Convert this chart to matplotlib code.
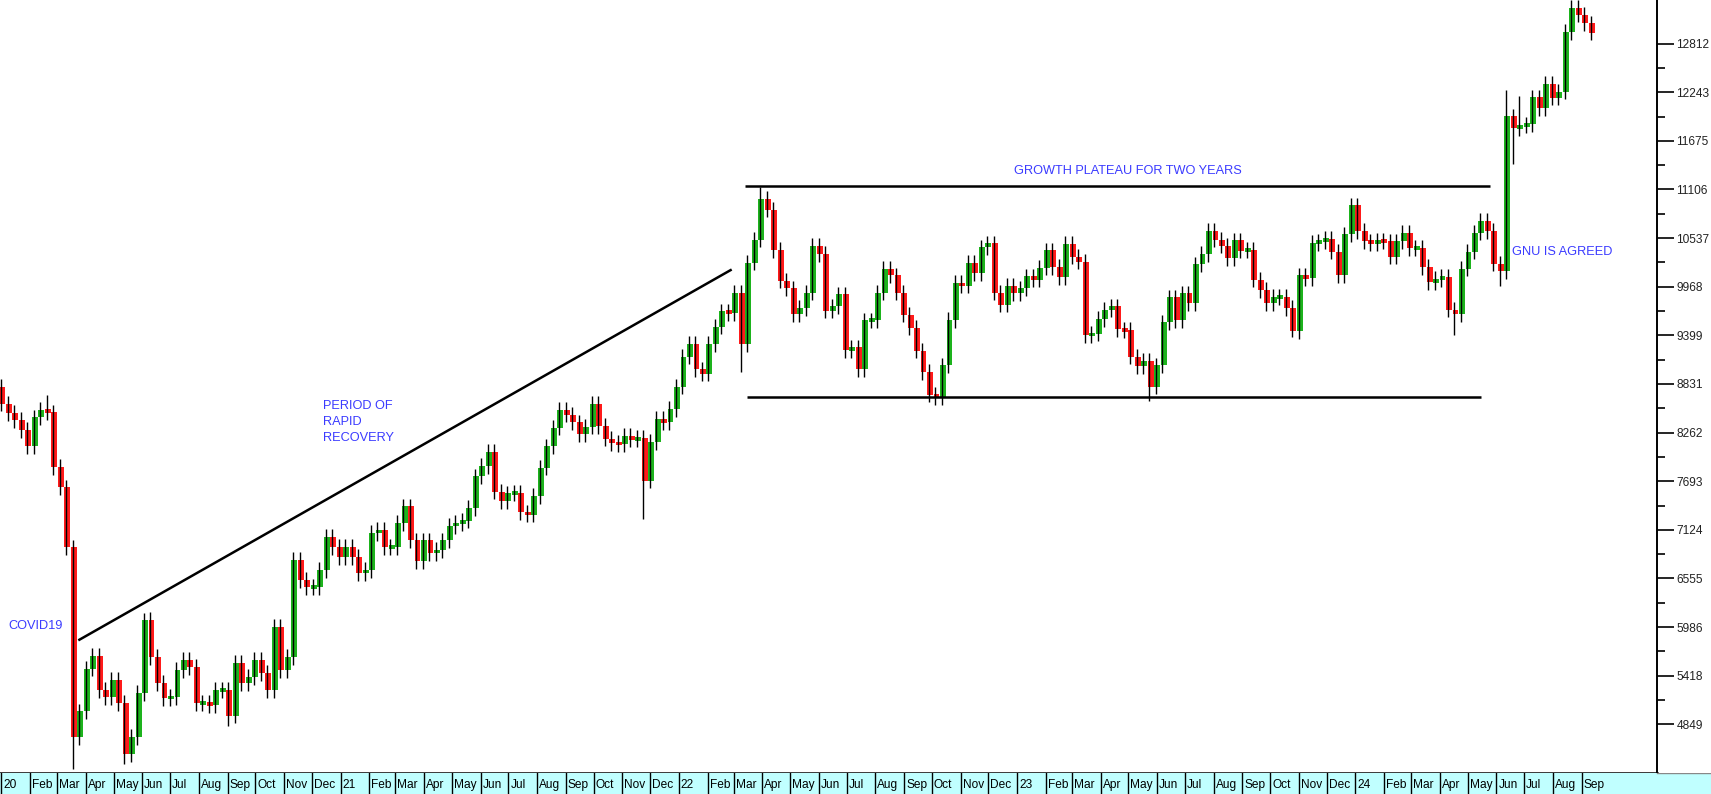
import numpy as np
import pandas as pd
import matplotlib
matplotlib.use("Agg")
import matplotlib.pyplot as plt
import matplotlib.dates as mdates
import matplotlib.transforms as mtransforms

plt.rcParams["font.family"] = ["Liberation Sans", "DejaVu Sans"]

# =========================
# DATA (weekly closes)
# =========================

week_start = "2020-01-02"
first_open = 8800

closes = [
    8600, 8490, 8410, 8290, 8100, 8440, 8530, 8500, 7860, 7620,
    6920, 4700, 5000, 5500, 5650, 5250, 5170, 5370, 5100, 4500,
    4700, 5215, 6068, 5636, 5332, 5156, 5168, 5484, 5601, 5519,
    5098, 5098, 5075, 5250, 5250, 4950, 5566, 5332, 5402, 5601,
    5449, 5250, 5986, 5484, 5636, 6771, 6537, 6455, 6455, 6654,
    7040, 6923, 6806, 6923, 6806, 6619, 6654, 7087, 7123, 6923,
    6923, 7204, 7400, 7000, 6760, 7000, 6850, 6890, 7000, 7170,
    7204, 7230, 7380, 7750, 7870, 8035, 7570, 7460, 7550, 7560,
    7330, 7300, 7520, 7850, 8100, 8320, 8530, 8470, 8380, 8246,
    8330, 8600, 8340, 8190, 8140, 8130, 8220, 8180, 8200, 7700,
    8150, 8420, 8380, 8539, 8800, 9150, 9300, 9000, 8950, 9300,
    9500, 9680, 9660, 9900, 9300, 10250, 10520, 11000, 10870, 10400,
    10038, 9950, 9650, 9720, 9900, 10450, 10350, 9690, 9740, 9880,
    9225, 9260, 9000, 9576, 9576, 9900, 10180, 10100, 9900, 9640,
    9490, 9220, 8970, 8700, 8680, 9050, 9580, 10010, 9980, 10250,
    10130, 10430, 10477, 9900, 9760, 9980, 9890, 9950, 10090, 10050,
    10190, 10395, 10197, 10080, 10470, 10320, 10260, 9400, 9420, 9590,
    9700, 9740, 9470, 9460, 9150, 9040, 9100, 8800, 9050, 9550,
    9845, 9580, 9890, 9780, 10230, 10350, 10620, 10520, 10450, 10300,
    10512, 10390, 10400, 10050, 9930, 9780, 9850, 9850, 9720, 9450,
    10100, 10070, 10480, 10500, 10530, 10380, 10100, 10580, 10920, 10620,
    10500, 10480, 10512, 10500, 10320, 10500, 10600, 10420, 10420, 10200,
    10020, 10060, 10080, 9700, 9650, 10180, 10380, 10600, 10740, 10620,
    10240, 10150, 11960, 11820, 11860, 11867, 12183, 12060, 12340, 12180,
    12250, 12950, 13230, 13150, 13050, 12940,
]

# weeks with long wicks
low_spike_weeks = [11, 19, 35, 99, 114, 143, 177, 199, 224, 231, 233]
low_spike_values = [4330, 4380, 4830, 7250, 8970, 8620, 8630, 9380, 9400, 9980, 11410]
high_spike_weeks = [7, 22, 117, 232, 234, 242]
high_spike_values = [8700, 6150, 11140, 12270, 12200, 13320]

y_ticks = [4849, 5418, 5986, 6555, 7124, 7693, 8262, 8831, 9399,
           9968, 10537, 11106, 11675, 12243, 12812]

# drawn lines and notes
trend_line = (["2020-03-24", "2022-02-27"], [5831, 10170])
top_line = (["2022-03-13", "2024-05-25"], [11147, 11147])
base_line = (["2022-03-15", "2024-05-15"], [8673, 8673])

notes = [
    ("COVID19", "2020-01-08", 6000, "left"),
    ("PERIOD OF\nRAPID\nRECOVERY", "2020-12-13", 8386, "left"),
    ("GROWTH PLATEAU FOR TWO YEARS", "2023-04-30", 11323, "center"),
    ("GNU IS AGREED", "2024-06-18", 10375, "left"),
]

# =========================
# LAYOUT
# =========================

W, H = 1711, 794
PLOT_R = 1657
STRIP_H = 21
x_left = mdates.date2num(pd.Timestamp("2019-12-30 12:00"))
x_right = mdates.date2num(pd.Timestamp("2024-11-21 10:00"))

UP = "#1db31d"
DOWN = "#ff1a1a"
NOTE = "#3b3bff"
WICK = 90

fig = plt.figure(figsize=(W / 100, H / 100), dpi=100)
ax = fig.add_axes([0, STRIP_H / H, PLOT_R / W, 1 - STRIP_H / H])

dates = pd.date_range(week_start, periods=len(closes), freq="7D")
x = mdates.date2num(dates)
c = np.array(closes, dtype=float)
o = np.concatenate([[first_open], c[:-1]])
hi = np.maximum(o, c) + WICK
lo = np.minimum(o, c) - WICK
hi[high_spike_weeks] = high_spike_values
lo[low_spike_weeks] = low_spike_values

colors = np.where(c >= o, UP, DOWN)
ax.vlines(x - 1.2, lo, hi, color="black", linewidth=1.0)
body = np.maximum(np.abs(c - o), 45)
ax.bar(x, body, bottom=np.minimum(o, c) - (body - np.abs(c - o)) / 2,
       width=6.4, color=colors, linewidth=0)

for (xs, ys) in (trend_line, top_line, base_line):
    ax.plot(pd.to_datetime(xs), ys, color="black", linewidth=1.8, solid_capstyle="butt")

for text, d, v, ha in notes:
    ax.text(pd.Timestamp(d), v, text, color=NOTE, fontsize=9.2, ha=ha,
            va="center", linespacing=1.45)

ax.set_xlim(x_left, x_right)
ax.set_ylim(4279, 13323)

ax.yaxis.tick_right()
ax.set_yticks(y_ticks)
ax.set_yticklabels([str(t) for t in y_ticks])
mids = (np.array(y_ticks[:-1]) + np.array(y_ticks[1:])) / 2
ax.set_yticks(mids, minor=True)
ax.tick_params(axis="y", which="major", length=12, width=1.2, pad=2,
               labelsize=8.6, colors="black", labelcolor="#222222")
ax.tick_params(axis="y", which="minor", length=6, width=1.2)
ax.set_xticks([])
for s in ("top", "left"):
    ax.spines[s].set_visible(False)
ax.spines["right"].set_linewidth(1.4)
ax.spines["bottom"].set_linewidth(1.8)

# month strip along the bottom
strip = fig.add_axes([0, 0, 1, STRIP_H / H])
strip.set_facecolor("#c0ffff")
strip.set_xlim(x_left, x_left + (x_right - x_left) * W / PLOT_R)
strip.set_ylim(0, 1)
strip.set_xticks([])
strip.set_yticks([])
for s in strip.spines.values():
    s.set_visible(False)
strip.axhline(1, xmin=PLOT_R / W, color="#888888", linewidth=1.0)

months = pd.date_range("2020-01-01", "2024-09-01", freq="MS")
shift = mtransforms.offset_copy(strip.transData, fig=fig, x=2, y=0, units="dots")
for m in months:
    label = m.strftime("%y") if m.month == 1 else m.strftime("%b")
    strip.axvline(m, color="black", linewidth=1.0)
    strip.text(m, 0.45, label, transform=shift, fontsize=8.6, ha="left",
               va="center", color="black")

fig.savefig("out.png", dpi=100)
